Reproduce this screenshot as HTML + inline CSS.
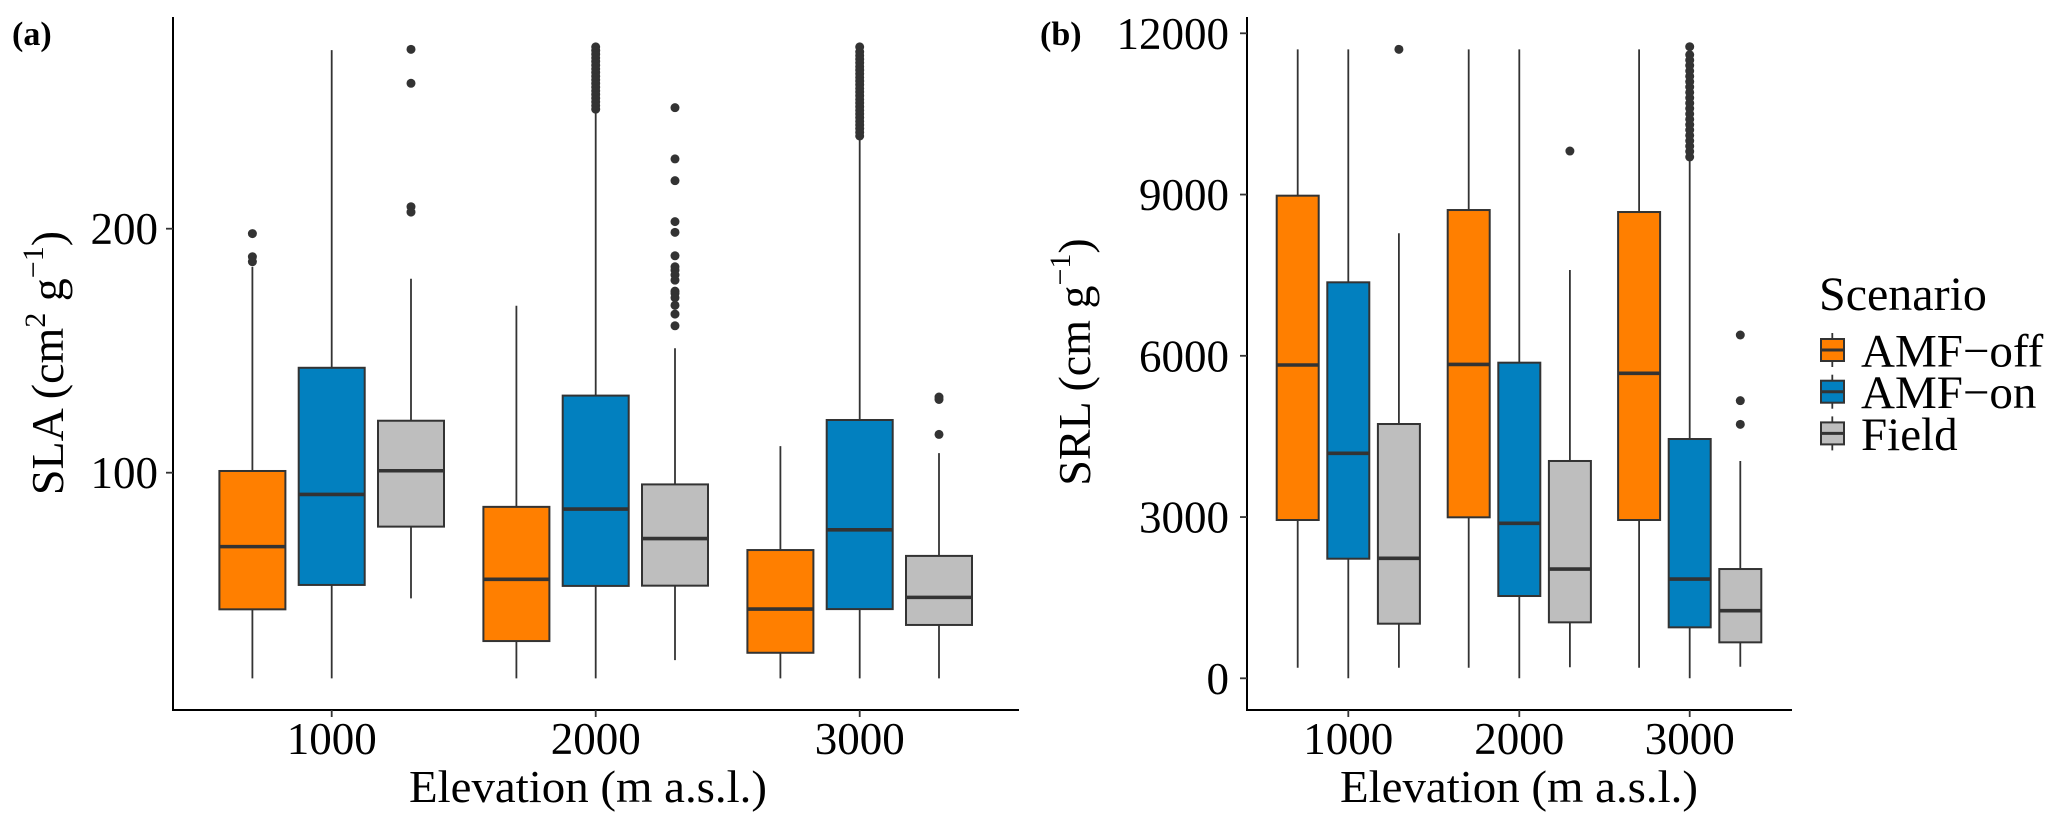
<!DOCTYPE html>
<html><head><meta charset="utf-8"><style>
html,body{margin:0;padding:0;background:#fff;}
svg{display:block;font-family:"Liberation Serif",serif;}
</style></head><body>
<svg id="chart" width="2067" height="830" viewBox="0 0 2067 830" xmlns="http://www.w3.org/2000/svg">
<g id="panelA"></g>
<g id="panelB"></g>
<g id="legend"></g>
</svg>
<script>
// ---- data ----
const elevations = ["1000", "2000", "3000"];
const scenarios = ["AMF−off", "AMF−on", "Field"];
const colors = ["#FF7F00", "#0280BF", "#BEBEBE"];
// SLA stats per elevation, per scenario: [lowerWhisker, q1, median, q3, upperWhisker]
const slaOff = [[15.7, 44, 69.7, 100.7, 184.4], [15.7, 31, 56.3, 86, 168.4], [15.7, 26.2, 44.1, 68.3, 110.9]];
const slaOn = [[15.7, 54, 91.1, 143, 273.2], [15.7, 53.6, 85.1, 131.6, 247.3], [15.7, 44.1, 76.6, 121.6, 236.4]];
const slaField = [[48.5, 77.9, 100.8, 121.3, 179.5], [23.2, 53.7, 73, 95.2, 151], [15.7, 37.6, 48.9, 65.9, 108]];
const slaOutOff = [[186.5, 188.5, 198], [], []];
const slaOutOn = [[], [249, 250.5, 252, 253.5, 255, 256.5, 258, 259.5, 261, 262.5, 264, 265.5, 267, 268.5, 270, 271.5, 273, 274.5],
  [238, 239.5, 241, 242.5, 244, 245.5, 247, 248.5, 250, 251.5, 253, 254.5, 256, 257.5, 259, 260.5, 262, 263.5, 265, 266.5, 268, 269.5, 271, 272.5, 274.5]];
const slaOutField = [[273.5, 259.6, 209, 206.8], [249.6, 228.6, 219.7, 202.9, 198.5, 188.9, 184.4, 183, 181, 178.9, 174.4, 173.5, 171.7, 168.6, 165, 160.2], [131, 130, 115.7]];
const slaTicks = [100, 200];
// SRL stats
const srlOff = [[197, 2945, 5829, 8979, 11702], [197, 2995, 5840, 8712, 11702], [197, 2945, 5674, 8675, 11702]];
const srlOn = [[0, 2225, 4186, 7367, 11702], [0, 1531, 2884, 5872, 11702], [0, 948, 1847, 4452, 9643]];
const srlField = [[197, 1016, 2232, 4731, 8279], [205, 1041, 2033, 4043, 7596], [216, 669, 1258, 2033, 4043]];
const srlOutOff = [[], [], []];
const srlOutOn = [[], [], [9700, 9800, 9900, 10000, 10100, 10200, 10300, 10400, 10500, 10600, 10700, 10800, 10900, 11000, 11100, 11200, 11300, 11400, 11500, 11600, 11750]];
const srlOutField = [[11702], [9810], [6387, 5165, 4725]];
const srlTicks = [0, 3000, 6000, 9000, 12000];

const NS = "http://www.w3.org/2000/svg";
function mk(tag, attrs, parent) {
  const e = document.createElementNS(NS, tag);
  for (const k in attrs) e.setAttribute(k, attrs[k]);
  parent.appendChild(e);
  return e;
}
const INK = "#333333";

function drawPanel(g, cfg) {
  const {yScale, xCenters, offset, half, stats, outs, ticks, axisX, axisTop, axisBottom, axisRight, labelX} = cfg;
  const ya = mk("line", {x1: axisX, y1: axisTop, x2: axisX, y2: axisBottom + 1, stroke: "#000", "stroke-width": 2}, g);
  
  
  const xa = mk("line", {x1: axisX - 1, y1: axisBottom, x2: axisRight, y2: axisBottom, stroke: "#000", "stroke-width": 2}, g);
  
  
  ticks.forEach(t => {
    const y = yScale(t);
    const tl = mk("line", {x1: axisX - 7, y1: y, x2: axisX, y2: y, stroke: "#333", "stroke-width": 1.8}, g);
    
    
    const tx = mk("text", {x: labelX, y: y + 15.5, "text-anchor": "end", "font-size": 45, fill: "#000"}, g);
    tx.textContent = t;
    
    
  });
  elevations.forEach((el, i) => {
    const x = xCenters[i];
    const tl = mk("line", {x1: x, y1: axisBottom, x2: x, y2: axisBottom + 7, stroke: "#333", "stroke-width": 1.8}, g);
    
    
    const tx = mk("text", {x: x, y: 754, "text-anchor": "middle", "font-size": 45, fill: "#000"}, g);
    tx.textContent = el;
    
    
  });
  stats.forEach((series, s) => {
    series.forEach((st, i) => {
      const cx = xCenters[i] + offset[s];
      const [lw, q1, med, q3, uw] = st;
      const bg = mk("g", {}, g);
      
      
      mk("line", {x1: cx, y1: yScale(lw), x2: cx, y2: yScale(uw), stroke: INK, "stroke-width": 1.8}, bg);
      mk("rect", {x: cx - half, y: yScale(q3), width: 2 * half, height: yScale(q1) - yScale(q3), fill: colors[s], stroke: INK, "stroke-width": 2}, bg);
      mk("line", {x1: cx - half, y1: yScale(med), x2: cx + half, y2: yScale(med), stroke: INK, "stroke-width": 3.6}, bg);
      outs[s][i].forEach(v => {
        const c = mk("circle", {cx: cx, cy: yScale(v), r: 4.5, fill: INK}, bg);
        
        
      });
    });
  });
}

const yL = v => 472.7 - (v - 100) * 2.44;
const yR = v => 678.3 - v * 0.05375;

drawPanel(document.getElementById("panelA"), {
  yScale: yL, xCenters: [331.7, 595.7, 859.7], offset: [-79.3, 0, 79.3], half: 33,
  stats: [slaOff, slaOn, slaField], outs: [slaOutOff, slaOutOn, slaOutField], ticks: slaTicks,
  axisX: 173, axisTop: 17, axisBottom: 710, axisRight: 1019, labelX: 158
});
drawPanel(document.getElementById("panelB"), {
  yScale: yR, xCenters: [1348.3, 1519.3, 1689.7], offset: [-50.6, 0, 50.6], half: 21,
  stats: [srlOff, srlOn, srlField], outs: [srlOutOff, srlOutOn, srlOutField], ticks: srlTicks,
  axisX: 1247, axisTop: 17, axisBottom: 710, axisRight: 1792, labelX: 1229
});

const A = document.getElementById("panelA"), B = document.getElementById("panelB");
let t;
t = mk("text", {x: 12, y: 45, "font-size": 34, "font-weight": "bold"}, A); t.textContent = "(a)";


t = mk("text", {x: 1040, y: 45, "font-size": 34, "font-weight": "bold"}, B); t.textContent = "(b)";


t = mk("text", {x: 588, y: 802, "text-anchor": "middle", "font-size": 46, textLength: 358, lengthAdjust: "spacingAndGlyphs"}, A); t.textContent = "Elevation (m a.s.l.)";


t = mk("text", {x: 1519, y: 802, "text-anchor": "middle", "font-size": 46, textLength: 358, lengthAdjust: "spacingAndGlyphs"}, B); t.textContent = "Elevation (m a.s.l.)";



t = mk("text", {transform: "translate(63,363) rotate(-90)", "text-anchor": "middle", "font-size": 46}, A);
t.innerHTML = 'SLA (cm<tspan font-size="30" dy="-18">2</tspan><tspan dy="18"> g</tspan><tspan font-size="30" dy="-20">−1</tspan><tspan dy="20">)</tspan>';


t = mk("text", {transform: "translate(1090,362) rotate(-90)", "text-anchor": "middle", "font-size": 46}, B);
t.innerHTML = 'SRL (cm g<tspan font-size="30" dy="-20">−1</tspan><tspan dy="20">)</tspan>';



const L = document.getElementById("legend");
t = mk("text", {x: 1819, y: 310, "font-size": 48}, L); t.textContent = "Scenario";


scenarios.forEach((s, i) => {
  const cy = 350 + i * 41.7;
  const eg = mk("g", {}, L);
  
  
  mk("line", {x1: 1832.3, y1: cy - 17, x2: 1832.3, y2: cy + 17, stroke: INK, "stroke-width": 1.8}, eg);
  mk("rect", {x: 1821, y: cy - 11, width: 23, height: 22, fill: colors[i], stroke: INK, "stroke-width": 2}, eg);
  mk("line", {x1: 1821, y1: cy, x2: 1844, y2: cy, stroke: INK, "stroke-width": 3}, eg);
  const lt = mk("text", {x: 1861, y: cy + 16.5, "font-size": 47}, eg);
  lt.textContent = s;
});
</script>
</body></html>
